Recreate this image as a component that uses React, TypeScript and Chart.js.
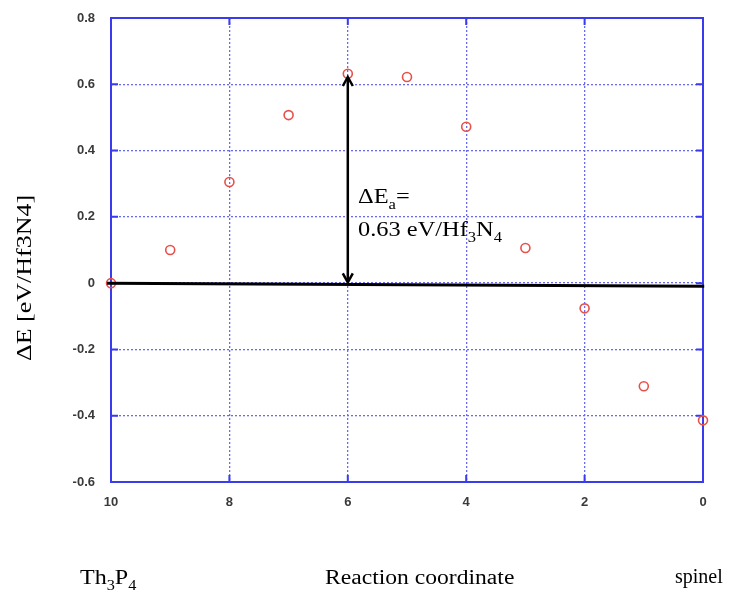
import React, { useEffect, useRef } from "react";
import { Chart, registerables } from "chart.js";

Chart.register(...registerables);

// ---- data ----
const reactionCoordinate = [10, 9, 8, 7, 6, 5, 4, 3, 2, 1, 0];
const deltaE = [0.0, 0.1, 0.305, 0.507, 0.632, 0.622, 0.472, 0.106, -0.076, -0.311, -0.414];
const xRange = [0, 10];
const xStep = 2;
const yRange = [-0.6, 0.8];
const yStep = 0.2;
// reference line (x, y) endpoints and barrier arrow
const baselineStart = [10.07, 0.0];
const baselineEnd = [-0.02, -0.009];
const barrierX = 6;
const barrierTop = 0.622;
const barrierBottom = 0.002;

const yTitle = "ΔE [eV/Hf3N4]";
const annotLine1 = [{ t: "ΔE" }, { t: "a", sub: true }, { t: "=" }];
const annotLine2 = [{ t: "0.63 eV/Hf" }, { t: "3", sub: true }, { t: "N" }, { t: "4", sub: true }];
const leftLabel = [{ t: "Th" }, { t: "3", sub: true }, { t: "P" }, { t: "4", sub: true }];
const centerLabel = [{ t: "Reaction coordinate" }];
const rightLabel = [{ t: "spinel" }];

const SERIF = '"Liberation Serif", "Times New Roman", serif';

type Seg = { t: string; sub?: boolean };

function drawRich(ctx: CanvasRenderingContext2D, segs: Seg[], x: number, y: number, size: number, sx: number) {
  ctx.save();
  ctx.translate(x, y);
  ctx.scale(sx, 1);
  ctx.fillStyle = "#000";
  ctx.textBaseline = "alphabetic";
  ctx.textAlign = "left";
  let cx = 0;
  for (const s of segs) {
    const fs = s.sub ? size * 0.68 : size;
    ctx.font = `${fs}px ${SERIF}`;
    ctx.fillText(s.t, cx, s.sub ? size * 0.28 : 0);
    cx += ctx.measureText(s.t).width;
  }
  ctx.restore();
}

function arrowHead(ctx: CanvasRenderingContext2D, x: number, y: number, dir: number) {
  // dir: -1 pointing up, +1 pointing down
  ctx.beginPath();
  ctx.moveTo(x - 5, y - dir * 9);
  ctx.lineTo(x, y);
  ctx.lineTo(x + 5, y - dir * 9);
  ctx.stroke();
}

const framePlugin = {
  id: "frame",
  beforeDatasetsDraw(chart: any) {
    const { ctx, chartArea: a, scales } = chart;
    ctx.save();
    ctx.strokeStyle = "#3a3aee";
    ctx.lineWidth = 2;
    ctx.strokeRect(a.left, a.top, a.right - a.left, a.bottom - a.top);
    const tl = 7;
    ctx.beginPath();
    for (const t of scales.x.ticks) {
      const px = scales.x.getPixelForValue(t.value);
      ctx.moveTo(px, a.bottom);
      ctx.lineTo(px, a.bottom - tl);
      ctx.moveTo(px, a.top);
      ctx.lineTo(px, a.top + tl);
    }
    for (const t of scales.y.ticks) {
      const py = scales.y.getPixelForValue(t.value);
      ctx.moveTo(a.left, py);
      ctx.lineTo(a.left + tl, py);
      ctx.moveTo(a.right, py);
      ctx.lineTo(a.right - tl, py);
    }
    ctx.stroke();
    ctx.restore();
  },
  afterDatasetsDraw(chart: any) {
    const { ctx, scales } = chart;
    const X = scales.x, Y = scales.y;
    ctx.save();
    ctx.strokeStyle = "#000";
    ctx.lineWidth = 3;
    ctx.lineCap = "butt";
    ctx.beginPath();
    ctx.moveTo(X.getPixelForValue(baselineStart[0]), Y.getPixelForValue(baselineStart[1]));
    ctx.lineTo(X.getPixelForValue(baselineEnd[0]), Y.getPixelForValue(baselineEnd[1]));
    ctx.stroke();

    const ax = X.getPixelForValue(barrierX);
    const yTop = Y.getPixelForValue(barrierTop);
    const yBot = Y.getPixelForValue(barrierBottom);
    ctx.lineWidth = 2.5;
    ctx.beginPath();
    ctx.moveTo(ax, yTop + 1);
    ctx.lineTo(ax, yBot - 1);
    ctx.stroke();
    ctx.lineJoin = "miter";
    arrowHead(ctx, ax, yTop, -1);
    arrowHead(ctx, ax, yBot, 1);
    ctx.restore();

    // annotation text
    drawRich(ctx, annotLine1, 358, 203, 20, 1.22);
    drawRich(ctx, annotLine2, 358, 236, 20, 1.22);
  },
  afterDraw(chart: any) {
    const { ctx } = chart;
    // y-axis title
    ctx.save();
    ctx.translate(25, 278);
    ctx.rotate(-Math.PI / 2);
    ctx.scale(1.3, 1.05);
    ctx.font = `20px ${SERIF}`;
    ctx.fillStyle = "#000";
    ctx.textAlign = "center";
    ctx.textBaseline = "middle";
    ctx.fillText(yTitle, 0, 0);
    ctx.restore();
    // bottom labels
    drawRich(ctx, leftLabel, 80, 584, 20, 1.2);
    drawRich(ctx, centerLabel, 325, 584, 20, 1.18);
    drawRich(ctx, rightLabel, 675, 583, 20, 1.0);
  },
};

export default function App() {
  const ref = useRef<HTMLCanvasElement>(null);
  useEffect(() => {
    const canvas = ref.current!;
    const tickFont = { family: '"Liberation Sans", Arial, sans-serif', size: 13, weight: "bold" as const };
    const gridColor = "#6a6af0";
    const chart = new Chart(canvas, {
      type: "scatter",
      data: {
        datasets: [
          {
            data: reactionCoordinate.map((x, i) => ({ x, y: deltaE[i] })),
            pointStyle: "circle",
            pointRadius: 4.5,
            pointBorderWidth: 1.6,
            pointBorderColor: "#e8504a",
            pointBackgroundColor: "rgba(0,0,0,0)",
            showLine: false,
            clip: false,
          },
        ],
      },
      options: {
        animation: false,
        responsive: false,
        devicePixelRatio: 1,
        layout: { autoPadding: false, padding: { top: 18, right: 33, left: 0, bottom: 0 } },
        plugins: { legend: { display: false }, tooltip: { enabled: false } },
        scales: {
          x: {
            type: "linear",
            min: xRange[0],
            max: xRange[1],
            reverse: true,
            afterFit: (s: any) => {
              s.height = 109;
            },
            ticks: {
              stepSize: xStep,
              padding: 3,
              color: "#3a3a3a",
              font: tickFont,
              maxRotation: 0,
            },
            grid: {
              color: gridColor,
              lineWidth: 1.3,
              drawTicks: true,
              tickLength: 10,
              tickColor: "rgba(0,0,0,0)",
            },
            border: { display: false, dash: [2, 2] },
          },
          y: {
            min: yRange[0],
            max: yRange[1],
            afterFit: (s: any) => {
              s.width = 111;
            },
            ticks: {
              stepSize: yStep,
              padding: 3,
              color: "#3a3a3a",
              font: tickFont,
              callback: (v: any) => String(Number(Number(v).toFixed(1))),
            },
            grid: {
              color: gridColor,
              lineWidth: 1.3,
              drawTicks: true,
              tickLength: 13,
              tickColor: "rgba(0,0,0,0)",
            },
            border: { display: false, dash: [2, 2] },
          },
        },
      },
      plugins: [framePlugin],
    });
    return () => chart.destroy();
  }, []);
  return (
    <div style={{ position: "fixed", left: 0, top: 0, width: 736, height: 591, background: "#fff" }}>
      <canvas ref={ref} width={736} height={591} style={{ display: "block" }} />
    </div>
  );
}
